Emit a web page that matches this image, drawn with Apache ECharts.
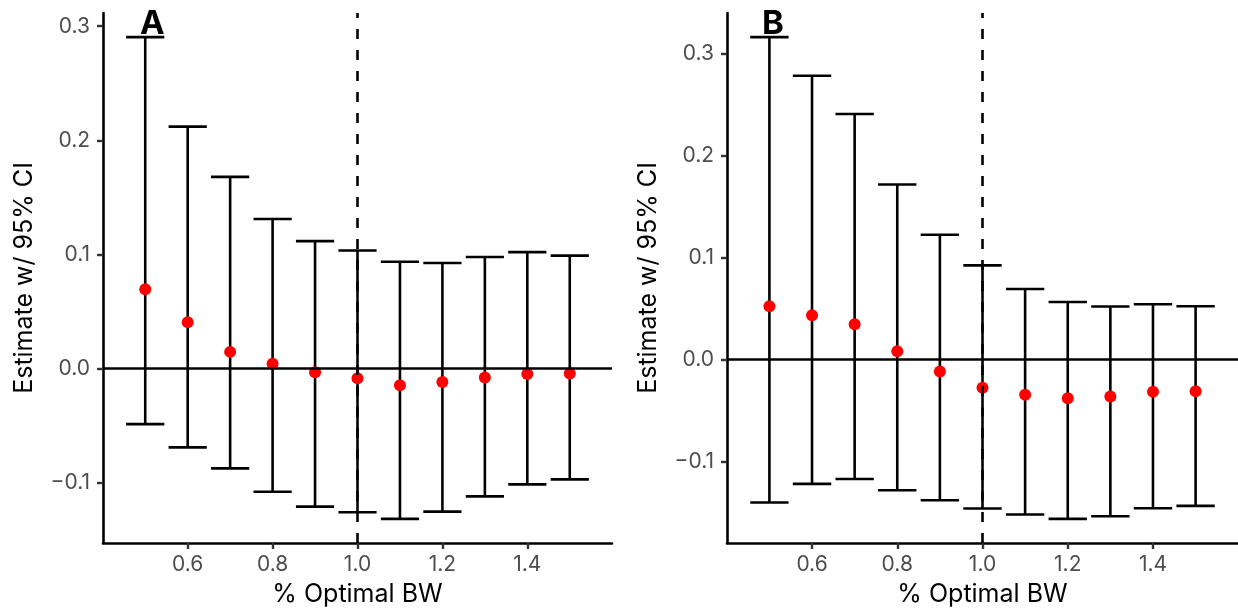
<!DOCTYPE html>
<html>
<head>
<meta charset="utf-8">
<script src="https://cdn.jsdelivr.net/npm/echarts@6/dist/echarts.min.js"></script>
<style>
html,body{margin:0;padding:0;background:#fff;}
#chart{width:1238px;height:612px;}
</style>
</head>
<body>
<div id="chart"></div>
<script>
// ---- data ----
var bandwidths = [0.5, 0.6, 0.7, 0.8, 0.9, 1.0, 1.1, 1.2, 1.3, 1.4, 1.5];

var estA = [0.0694, 0.0405, 0.0146, 0.0041, -0.0032, -0.0085, -0.0146, -0.0117, -0.0079, -0.0047, -0.0044];
var lowA = [-0.0487, -0.0691, -0.0875, -0.108, -0.121, -0.126, -0.1318, -0.1254, -0.112, -0.1015, -0.0971];
var highA = [0.2905, 0.212, 0.168, 0.131, 0.1117, 0.1035, 0.0936, 0.0925, 0.0977, 0.102, 0.099];

var estB = [0.0523, 0.0434, 0.0346, 0.0081, -0.0118, -0.0278, -0.0347, -0.0382, -0.0363, -0.0317, -0.0311];
var lowB = [-0.1405, -0.1222, -0.1174, -0.1285, -0.1383, -0.1464, -0.1523, -0.1566, -0.154, -0.1461, -0.1438];
var highB = [0.3167, 0.2787, 0.2412, 0.1719, 0.1225, 0.0925, 0.0692, 0.0565, 0.052, 0.0542, 0.0523];

var xTicks = [0.6, 0.8, 1.0, 1.2, 1.4];
var yTicks = [-0.1, 0.0, 0.1, 0.2, 0.3];
var panelLabels = ['A', 'B'];
var xTitle = '% Optimal BW';
var yTitle = 'Estimate w/ 95% CI';
var refX = 1.0;
var refY = 0.0;

// ---- build ----
var capHalf = 0.045;
function rows(est, lo, hi) {
  return bandwidths.map(function (b, i) { return [b, lo[i], hi[i], est[i]]; });
}
function errRender(params, api) {
  var x = api.value(0), lo = api.value(1), hi = api.value(2);
  var top = api.coord([x, hi]), bot = api.coord([x, lo]);
  var l = api.coord([x - capHalf, hi])[0], r = api.coord([x + capHalf, hi])[0];
  var st = { stroke: '#000', lineWidth: 2.6 };
  return {
    type: 'group',
    children: [
      { type: 'line', shape: { x1: top[0], y1: top[1], x2: bot[0], y2: bot[1] }, style: st },
      { type: 'line', shape: { x1: l, y1: top[1], x2: r, y2: top[1] }, style: st },
      { type: 'line', shape: { x1: l, y1: bot[1], x2: r, y2: bot[1] }, style: st }
    ]
  };
}
var font = 'Inter, "Liberation Sans", Arial, sans-serif';
function fmt(v) { return (v < 0 ? '\u2212' : '') + Math.abs(v).toFixed(1); }

function xAxisCfg(gi) {
  return {
    type: 'value', gridIndex: gi, min: 0.4005, max: 1.5995,
    name: xTitle, nameLocation: 'middle', nameGap: 39,
    nameTextStyle: { fontFamily: font, fontSize: 25, color: '#000' },
    axisLine: { show: true, onZero: false, lineStyle: { color: '#000', width: 2.6 } },
    axisTick: { show: true, length: 6, customValues: xTicks, lineStyle: { color: '#333', width: 2.4 } },
    axisLabel: { customValues: xTicks, formatter: fmt, fontFamily: font, fontSize: 21, color: '#4d4d4d', margin: 11 },
    splitLine: { show: false }
  };
}
function yAxisCfg(gi, mn, mx) {
  return {
    type: 'value', gridIndex: gi, min: mn, max: mx,
    name: yTitle, nameLocation: 'middle', nameGap: 66,
    nameTextStyle: { fontFamily: font, fontSize: 25, color: '#000' },
    axisLine: { show: true, onZero: false, lineStyle: { color: '#000', width: 2.6 } },
    axisTick: { show: true, length: 6, customValues: yTicks, lineStyle: { color: '#333', width: 2.4 } },
    axisLabel: { customValues: yTicks, formatter: fmt, fontFamily: font, fontSize: 21, color: '#4d4d4d', margin: 13 },
    splitLine: { show: false }
  };
}
function seriesFor(gi, est, lo, hi) {
  var data = rows(est, lo, hi);
  return [
    {
      type: 'custom', xAxisIndex: gi, yAxisIndex: gi, renderItem: errRender,
      data: data, encode: { x: 0, y: [1, 2] }, silent: true, z: 3,
      markLine: {
        silent: true, symbol: 'none', label: { show: false }, animation: false,
        data: [
          { yAxis: refY, lineStyle: { color: '#000', width: 2.6, type: 'solid' } },
          { xAxis: refX, lineStyle: { color: '#000', width: 2.6, type: [10, 11] } }
        ]
      }
    },
    {
      type: 'scatter', xAxisIndex: gi, yAxisIndex: gi,
      data: data.map(function (r) { return [r[0], r[3]]; }),
      symbol: 'circle', symbolSize: 12, itemStyle: { color: '#ff0000', opacity: 1 }, z: 4, silent: true
    }
  ];
}

var chart = echarts.init(document.getElementById('chart'), null, { renderer: 'canvas' });
chart.setOption({
  animation: false,
  backgroundColor: '#fff',
  grid: [
    { left: 103, top: 13, width: 509, height: 531 },
    { left: 727, top: 13, width: 511, height: 531 }
  ],
  xAxis: [xAxisCfg(0), xAxisCfg(1)],
  yAxis: [yAxisCfg(0, -0.1529, 0.3116), yAxisCfg(1, -0.1803, 0.3404)],
  series: seriesFor(0, estA, lowA, highA).concat(seriesFor(1, estB, lowB, highB)),
  graphic: [
    { type: 'text', left: 140, top: 8, z: 10, style: { text: panelLabels[0], font: 'bold 33px ' + font, fill: '#000' } },
    { type: 'text', left: 762, top: 8, z: 10, style: { text: panelLabels[1], font: 'bold 33px ' + font, fill: '#000' } }
  ]
});
</script>
</body>
</html>
